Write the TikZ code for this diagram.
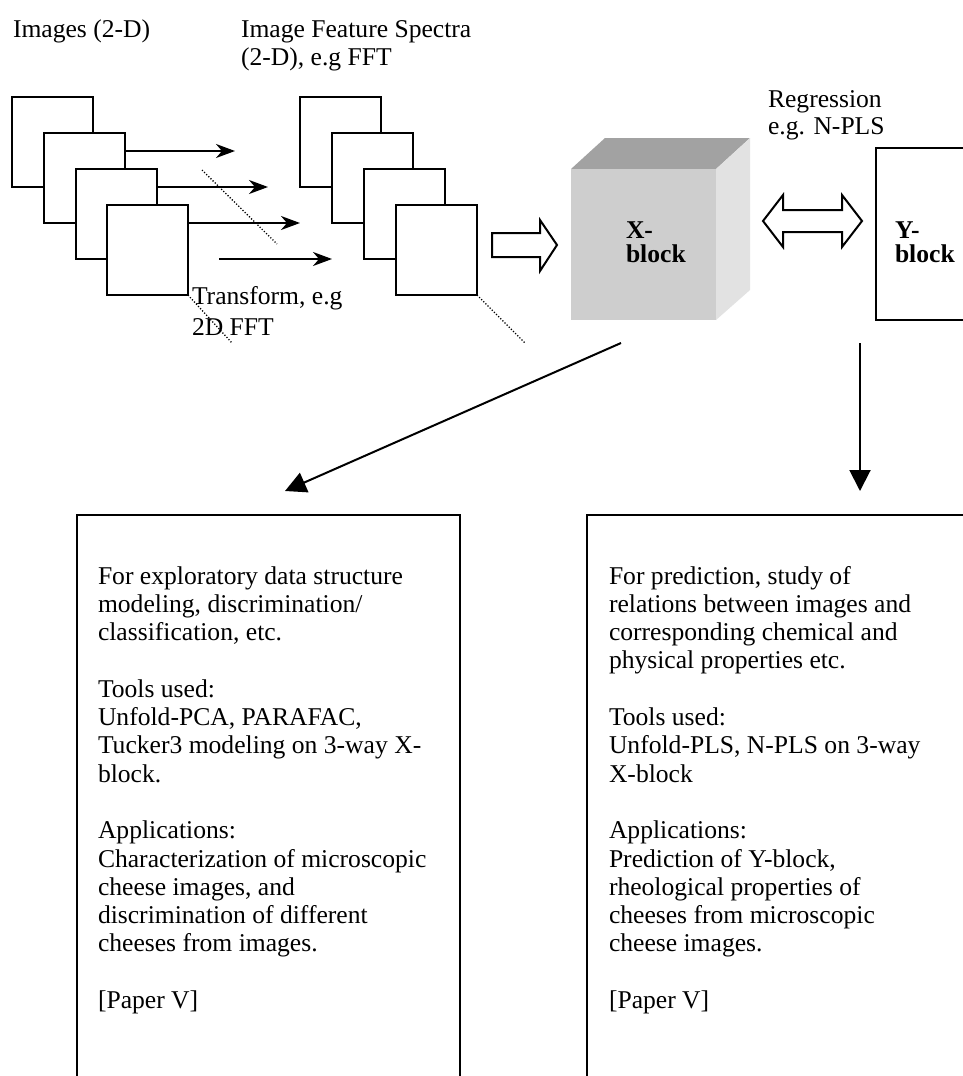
\documentclass[tikz,border=0pt]{standalone}
\usepackage{fontspec}
\setmainfont{Liberation Serif}
\usetikzlibrary{arrows.meta,calc}
\definecolor{cubetop}{HTML}{A2A2A2}
\definecolor{cubefront}{HTML}{CECECE}
\definecolor{cubeside}{HTML}{E2E2E2}
\begin{document}
\begin{tikzpicture}[x=1pt,y=-1pt,
  lbl/.style={anchor=base west, inner sep=0pt, outer sep=0pt, font=\fontsize{25.6}{28.3}\selectfont},
  boldlbl/.style={lbl, font=\fontsize{25.6}{28.3}\selectfont\bfseries},
  sheet/.style={draw, line width=2pt, fill=white, anchor=north west, minimum width=81pt, minimum height=90pt, inner sep=0pt, outer sep=0pt},
  feed/.style={line width=2pt, -{Stealth[length=19pt,width=14pt,inset=6pt]}},
  guide/.style={line width=1.3pt, dash pattern=on 1.2pt off 1.8pt},
  flow/.style={line width=2pt, -{Triangle[length=21pt,width=21pt]}},
  frame/.style={line width=2pt, line join=miter},
  hollow/.style={draw, line width=2pt, fill=white, line join=miter},
]
% page
\fill[white] (0,0) rectangle (963,1076);
\useasboundingbox (0,0) rectangle (963,1076);

% headings
\node[lbl] (hImg) at (13,37) {Images (2-D)};
\node[lbl] (hSpec) at (241,37) {Image Feature Spectra};
\node[lbl] (hSpecB) at (241,65) {(2-D), e.g FFT};

% stack of images
\node[sheet] (im1) at (12,97) {};
\node[sheet] (im2) at (44,133) {};
\node[sheet] (im3) at (76,169) {};
\node[sheet] (im4) at (107,205) {};

% transform arrows
\coordinate (f1) at (235,151);
\coordinate (f2) at (268,187);
\coordinate (f3) at (300,223);
\coordinate (f4s) at (219,259);
\coordinate (f4) at (332,259);
\draw[feed] ($(im2.north east)+(0,18)$) -- (f1);
\draw[feed] ($(im3.north east)+(0,18)$) -- (f2);
\draw[feed] ($(im4.north east)+(0,18)$) -- (f3);
\draw[feed] (f4s) -- (f4);

% dotted guides
\coordinate (d1a) at (202,170);
\coordinate (d1b) at (277,244);
\coordinate (d2) at (232,343);
\draw[guide] (d1a) -- (d1b);
\draw[guide] (im4.south east) -- (d2);

\node[lbl] (tf1) at (192,304) {Transform, e.g};
\node[lbl] (tf2) at (192,335) {2D FFT};

% stack of spectra
\node[sheet] (sp1) at (300,97) {};
\node[sheet] (sp2) at (332,133) {};
\node[sheet] (sp3) at (364,169) {};
\node[sheet] (sp4) at (396,205) {};
\coordinate (d3) at (525,343);
\draw[guide] (sp4.south east) -- (d3);

% block arrow into the cube
\draw[hollow] (492,233) -- (540,233) -- (540,220) -- (557,245) -- (540,271)
  -- (540,257) -- (492,257) -- cycle;

% X-block cube
\fill[cubetop] (571,169) -- (605,138) -- (750,138) -- (716,169) -- cycle;
\fill[cubeside] (716,169) -- (750,138) -- (750,290) -- (716,320) -- cycle;
\node[fill=cubefront, anchor=north west, minimum width=145pt, minimum height=151pt,
  inner sep=0pt, outer sep=0pt] (xblk) at (571,169) {};
\node[boldlbl] (xb1) at (626,238) {X-};
\node[boldlbl] (xb2) at (626,262) {block};

% regression double arrow
\draw[hollow] (763,221) -- (783,195) -- (783,210) -- (842,210) -- (842,195)
  -- (862,221) -- (842,247) -- (842,232) -- (783,232) -- (783,247) -- cycle;
\node[lbl] (reg1) at (768,107) {Regression};
\node[lbl] (reg2) at (768,134) {e.g. N-PLS};

% Y-block
\coordinate (ybl) at (876,320);
\draw[frame] (963,148) -- (876,148) -- (ybl) -- (963,320);
\node[boldlbl] (yb1) at (895,238) {Y-};
\node[boldlbl] (yb2) at (895,262) {block};

% result boxes
\coordinate (lbox) at (77,515);
\coordinate (rbox) at (587,515);
\draw[frame] (77,1076) -- (lbox) -- (460,515) -- (460,1076);
\draw[frame] (587,1076) -- (rbox) -- (963,515);

% arrows down to the boxes
\coordinate (xout) at ($(xblk.south west)+(50,23)$);
\coordinate (lin) at ($(lbox)+(208,-24)$);
\coordinate (yout) at ($(ybl)+(-16,23)$);
\coordinate (rin) at ($(rbox)+(273,-24)$);
\draw[flow] (xout) -- (lin);
\draw[flow] (yout) -- (rin);

% box texts
\foreach \t [count=\i from 0] in {{For exploratory data structure},{modeling, discrimination/},
  {classification, etc.},{},{Tools used:},{Unfold-PCA, PARAFAC,},{Tucker3 modeling on 3-way X-},
  {block.},{},{Applications:},{Characterization of microscopic},{cheese images, and},
  {discrimination of different},{cheeses from images.},{},{[Paper V]}}
  \node[lbl] (use\i) at (98,{584+28.3*\i}) {\t};

\foreach \t [count=\i from 0] in {{For prediction, study of},{relations between images and},
  {corresponding chemical and},{physical properties etc.},{},{Tools used:},
  {Unfold-PLS, N-PLS on 3-way},{X-block},{},{Applications:},{Prediction of Y-block,},
  {rheological properties of},{cheeses from microscopic},{cheese images.},{},{[Paper V]}}
  \node[lbl] (pred\i) at (609,{584+28.3*\i}) {\t};
\end{tikzpicture}
\end{document}
